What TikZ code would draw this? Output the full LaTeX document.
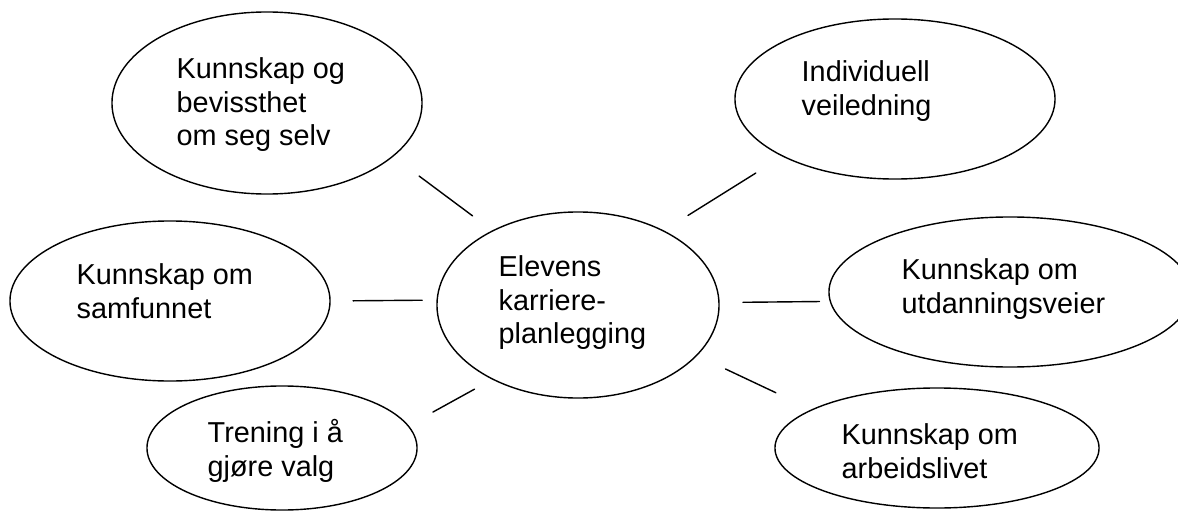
\documentclass[tikz,border=0pt]{standalone}
\usepackage{fontspec}
\setmainfont{Liberation Sans}
\usetikzlibrary{shapes.geometric}
\tikzset{
  bubble/.style={draw, ellipse, inner sep=0pt, outer sep=0pt},
  txt/.style={anchor=north west, inner sep=0pt, align=left, font=\fontsize{20.5pt}{23.8pt}\selectfont}
}
\begin{document}
\begin{tikzpicture}[x=0.025cm, y=-0.025cm, line width=1pt, line cap=round]
  \useasboundingbox (0,0) rectangle (1178,512);
  % ellipses
  \node[bubble, minimum width=7.05cm, minimum height=4.65cm] (c) at (578,305) {};
  \node[bubble, minimum width=7.75cm, minimum height=4.55cm] (tl) at (267,103) {};
  \node[bubble, minimum width=8cm, minimum height=4cm] (l) at (170,301) {};
  \node[bubble, minimum width=6.75cm, minimum height=3.1cm] (bl) at (282,448) {};
  \node[bubble, minimum width=8cm, minimum height=4cm] (tr) at (895,99) {};
  \node[bubble, minimum width=9.05cm, minimum height=3.75cm] (r) at (1010,292) {};
  \node[bubble, minimum width=8.1cm, minimum height=3cm] (br) at (937,448) {};
  % texts
  \node[txt] (c-txt) at (498,255) {Elevens\\karriere-\\planlegging};
  \node[txt] (tl-txt) at (176,57) {Kunnskap og\\bevissthet\\om seg selv};
  \node[txt] (l-txt) at (76,263) {Kunnskap om\\samfunnet};
  \node[txt] (bl-txt) at (207,419) {Trening i å\\gjøre valg};
  \node[txt] (tr-txt) at (801,60) {Individuell\\veiledning};
  \node[txt] (r-txt) at (901,258) {Kunnskap om\\utdanningsveier};
  \node[txt] (br-txt) at (841,423) {Kunnskap om\\arbeidslivet};
  % links
  \draw[shorten <=0.825cm, shorten >=0.63cm] (tl.-23) -- (c.139);
  \draw[shorten <=0.575cm, shorten >=0.375cm] (l.east) -- (c.178.5);
  \draw[shorten <=0.71cm, shorten >=0.52cm] (bl.10) -- (c.221);
  \draw[shorten <=0.73cm, shorten >=0.8cm] (c.41.5) -- (tr.207);
  \draw[shorten <=0.6cm, shorten >=0.275cm] (c.1) -- (r.183.5);
  \draw[shorten <=0.8cm, shorten >=1cm] (c.-23) -- (br.163.5);
\end{tikzpicture}
\end{document}
